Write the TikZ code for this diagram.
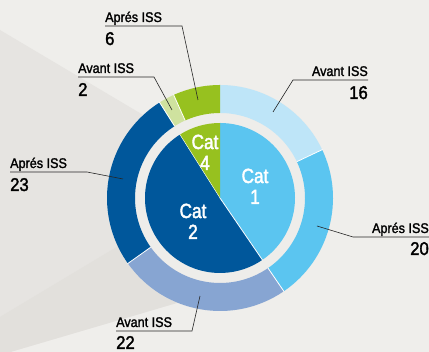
\documentclass[tikz,border=0pt]{standalone}
\usepackage{fontspec}
\setmainfont{Liberation Sans}
\newfontfamily\lblfont[FakeStretch=0.9,FakeBold=1.6]{Liberation Sans}
\newfontfamily\numfont[FakeStretch=0.9,FakeBold=1.8]{Liberation Sans}
\newfontfamily\catfont[FakeStretch=0.84,FakeBold=2.0]{Liberation Sans}

\definecolor{bgmain}{HTML}{EFEEEB}
\definecolor{bgwedge}{HTML}{E6E4E1}
\definecolor{bgband}{HTML}{E2E0DC}
\definecolor{gapcol}{HTML}{EEEDEA}
\definecolor{avantA}{HTML}{BEE5F8}
\definecolor{apresA}{HTML}{5BC5F0}
\definecolor{avantB}{HTML}{87A5D2}
\definecolor{apresB}{HTML}{00579B}
\definecolor{avantC}{HTML}{CFE29F}
\definecolor{apresC}{HTML}{97C11F}

% ring segment between radii 85pt and 113pt, from angle #2 to angle #3
\newcommand\ringseg[3]{%
  \fill[#1] (#2:85pt) arc[start angle=#2,end angle=#3,radius=85pt]
    -- (#3:113pt) arc[start angle=#3,end angle=#2,radius=113pt] -- cycle;}
% pie slice of radius 75pt
\newcommand\pieslice[3]{%
  \fill[#1] (0,0) -- (#2:75pt) arc[start angle=#2,end angle=#3,radius=75pt] -- cycle;}

\tikzset{
  caption/.style={font=\lblfont\fontsize{14}{16}\selectfont, inner sep=0pt, text=black},
  value/.style={font=\numfont\fontsize{18.5}{20}\selectfont, inner sep=0pt, text=black},
  catlbl/.style={font=\catfont\fontsize{20.5}{21}\selectfont, inner sep=0pt, text=white, align=center, anchor=base},
  leader/.style={draw=black!85, line width=0.6pt},
  sep/.style={draw=white, line width=0.8pt},
}

\begin{document}
\begin{tikzpicture}[x=1pt,y=1pt]
\useasboundingbox (0,0) rectangle (429,352);

% background with diagonal shading bands
\fill[bgmain] (0,0) rectangle (429,352);
\fill[bgwedge] (0,322) -- (160,227) -- (200,150) -- (180,50) -- (0,-3) -- cycle;
\fill[bgband] (0,35) -- (150,125) -- (200,150) -- (180,50) -- (0,-3) -- cycle;

% donut chart
\begin{scope}[shift={(220,154)}]
  \fill[gapcol] (0,0) circle[radius=113pt];
  % outer ring: Avant / Apres ISS
  \ringseg{avantA}{25.3}{90}
  \ringseg{apresA}{-55.6}{25.3}
  \ringseg{avantB}{-144.6}{-55.6}
  \ringseg{apresB}{122.3}{215.4}
  \ringseg{avantC}{114.2}{122.3}
  \ringseg{apresC}{90}{114.2}
  \foreach \a in {25.3,-55.6,-144.6,122.3,114.2}
    \draw[sep] (\a:85pt) -- (\a:113.5pt);
  % inner pie: categories
  \pieslice{apresA}{-55.6}{90}
  \pieslice{apresB}{122.3}{304.4}
  \pieslice{apresC}{90}{122.3}
  \draw[sep] (0,0) -- (-55.6:75.5pt);
  \draw[draw=white, line width=0.4pt] (0,0) -- (122.3:75.5pt);
\end{scope}

% category labels (anchor at the baseline of the number line)
\node[catlbl] (cat1) at (255,148) {Cat\\1};
\node[catlbl] (cat2) at (193,113) {Cat\\2};
\node[catlbl] (cat4) at (205,182) {Cat\\4};

% callouts
\node[caption, anchor=base west] (t6) at (105,330) {Aprés ISS};
\node[value, anchor=base west] (v6) at (105,307) {6};
\coordinate (u6a) at (105,326); \coordinate (u6b) at (182,326); \coordinate (p6) at (198,252);
\draw[leader] (u6a) -- (u6b) -- (p6);

\node[caption, anchor=base west] (t2) at (78,279) {Avant ISS};
\node[value, anchor=base west] (v2) at (78,256) {2};
\coordinate (u2a) at (78,275); \coordinate (u2b) at (154,275); \coordinate (p2) at (172,242);
\draw[leader] (u2a) -- (u2b) -- (p2);

\node[caption, anchor=base east] (t16) at (368,276) {Avant ISS};
\node[value, anchor=base east] (v16) at (368,253) {16};
\coordinate (u16a) at (368,272); \coordinate (u16b) at (293,272); \coordinate (p16) at (273,240);
\draw[leader] (u16a) -- (u16b) -- (p16);

\node[caption, anchor=base west] (t23) at (10,184) {Aprés ISS};
\node[value, anchor=base west] (v23) at (10,161) {23};
\coordinate (u23a) at (10,180); \coordinate (u23b) at (87,180); \coordinate (p23) at (123,173);
\draw[leader] (u23a) -- (u23b) -- (p23);

\node[caption, anchor=base west] (t22) at (116,25) {Avant ISS};
\node[value, anchor=base west] (v22) at (116,3) {22};
\coordinate (u22a) at (116,21); \coordinate (u22b) at (192,21); \coordinate (p22) at (200,56);
\draw[leader] (u22a) -- (u22b) -- (p22);

\node[caption, anchor=base east] (t20) at (429,119) {Aprés ISS};
\node[value, anchor=base east] (v20) at (429,97) {20};
\coordinate (u20a) at (429,115); \coordinate (u20b) at (353,115); \coordinate (p20) at (317,126);
\draw[leader] (u20a) -- (u20b) -- (p20);
\end{tikzpicture}
\end{document}
